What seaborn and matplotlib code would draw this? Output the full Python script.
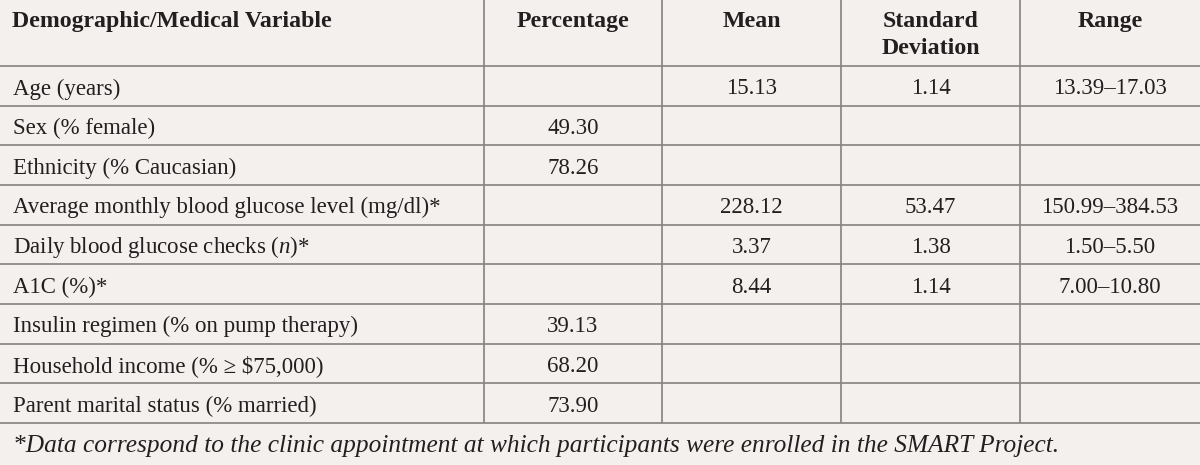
import matplotlib
matplotlib.use("Agg")
import matplotlib.pyplot as plt
import seaborn as sns
import numpy as np

# ---- data ----
columns = ["Demographic/Medical Variable", "Percentage", "Mean", "Standard\nDeviation", "Range"]
variables = [
    "Age (years)",
    "Sex (% female)",
    "Ethnicity (% Caucasian)",
    "Average monthly blood glucose level (mg/dl)*",
    "Daily blood glucose checks ($\\it{n}$)*",
    "A1C (%)*",
    "Insulin regimen (% on pump therapy)",
    "Household income (% \u2265 $75,000)",
    "Parent marital status (% married)",
]
percentage = ["", "49.30", "78.26", "", "", "", "39.13", "68.20", "73.90"]
mean = ["15.13", "", "", "228.12", "3.37", "8.44", "", "", ""]
std_dev = ["1.14", "", "", "53.47", "1.38", "1.14", "", "", ""]
value_range = ["13.39\u201317.03", "", "", "150.99\u2013384.53", "1.50\u20135.50", "7.00\u201310.80", "", "", ""]
footnote = "*Data correspond to the clinic appointment at which participants were enrolled in the SMART Project."

sns.set_theme(style="white")
plt.rcParams["font.family"] = ["Liberation Serif", "DejaVu Serif"]
plt.rcParams["mathtext.fontset"] = "custom"
plt.rcParams["mathtext.it"] = "Liberation Serif:italic"
plt.rcParams["mathtext.rm"] = "Liberation Serif"

BG = "#f4f0ed"
LINE = "#86817e"
TXT = "#231f20"

W, H = 1200, 465
fig = plt.figure(figsize=(12, 4.65), dpi=100, facecolor=BG)
ax = fig.add_axes([0, 0, 1, 1])
ax.set_facecolor(BG)
ax.set_xlim(0, W)
ax.set_ylim(H, 0)
ax.axis("off")

col_edges = [0, 484, 662, 841, 1020, 1200]
header_h = 66
row_h = 39.65
n = len(variables)
fs = 16.5

# grid lines
for i in range(n + 1):
    y = header_h + i * row_h
    ax.plot([0, W], [y, y], color=LINE, lw=1.2, solid_capstyle="butt")
table_bottom = header_h + n * row_h
for x in col_edges[1:-1]:
    ax.plot([x, x], [0, table_bottom], color=LINE, lw=1.2, solid_capstyle="butt")

# header
for j, name in enumerate(columns):
    lines = name.split("\n")
    if j == 0:
        x, ha = 12, "left"
    else:
        x, ha = (col_edges[j] + col_edges[j + 1]) / 2, "center"
    for k, ln in enumerate(lines):
        ax.text(x, 27 + k * 26.5, ln, ha=ha, va="baseline", fontsize=17.2, color=TXT,
                fontweight="bold")

# body
cols = [percentage, mean, std_dev, value_range]
for i, var in enumerate(variables):
    by = header_h + i * row_h + 28.5
    ax.text(13, by, var, ha="left", va="baseline", fontsize=fs, color=TXT)
    for j, col in enumerate(cols, start=1):
        if col[i]:
            cx = (col_edges[j] + col_edges[j + 1]) / 2
            ax.text(cx, by, col[i], ha="center", va="baseline", fontsize=fs, color=TXT)

ax.text(13, table_bottom + 29, footnote, ha="left", va="baseline", fontsize=18.3,
        color=TXT, fontstyle="italic")

fig.savefig("out.png", dpi=100, facecolor=BG)
